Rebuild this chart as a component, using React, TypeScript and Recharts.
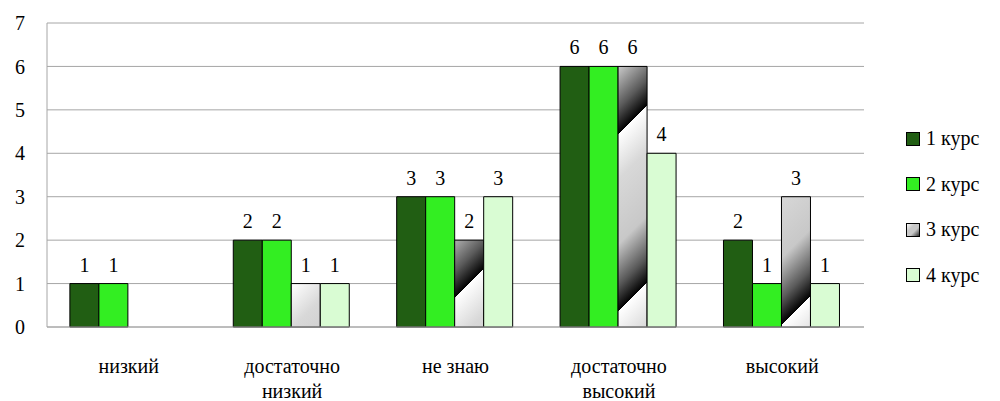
import { BarChart, Bar, XAxis, YAxis, CartesianGrid, LabelList } from "recharts"

const categories = ["низкий", "достаточно\nнизкий", "не знаю", "достаточно\nвысокий", "высокий"]
const course1 = [1, 2, 3, 6, 2]
const course2 = [1, 2, 3, 6, 1]
const course3 = [null, 1, 2, 6, 3]
const course4 = [null, 1, 3, 4, 1]
const yTicks = [0, 1, 2, 3, 4, 5, 6, 7]

const seriesNames = ["1 курс", "2 курс", "3 курс", "4 курс"]
const seriesFills = ["#215e13", "#33ee22", "url(#stripes)", "#d9fcd3"]

const data = categories.map((name, i) => ({
  name,
  c1: course1[i],
  c2: course2[i],
  c3: course3[i],
  c4: course4[i],
}))

const font = "'Liberation Serif', 'Times New Roman', 'DejaVu Serif', serif"

function CategoryTick({ x, y, payload }: any) {
  const lines = String(payload.value).split("\n")
  return (
    <text x={x} y={y} textAnchor="middle" style={{ fontFamily: font }} fontSize={20} fill="#000">
      {lines.map((l, i) => (
        <tspan key={i} x={x} dy={i === 0 ? 38 : 25}>
          {l}
        </tspan>
      ))}
    </text>
  )
}

function LegendBox() {
  return (
    <div style={{ position: "absolute", left: 906, top: 116, fontFamily: font, fontSize: 20, color: "#000" }}>
      {seriesNames.map((n, i) => (
        <div key={n} style={{ display: "flex", alignItems: "center", height: 45.5 }}>
          <svg width={14} height={14} style={{ marginRight: 6 }}>
            <defs>
              <linearGradient id={`lg${i}`} x1="0" y1="0" x2="1" y2="1">
                <stop offset="0" stopColor="#ffffff" />
                <stop offset="0.35" stopColor="#c8c8c8" />
                <stop offset="0.6" stopColor="#c8c8c8" />
                <stop offset="1" stopColor="#202020" />
              </linearGradient>
            </defs>
            <rect x={0.5} y={0.5} width={13} height={13} fill={i === 2 ? `url(#lg${i})` : seriesFills[i]} stroke="#000" />
          </svg>
          <span>{n}</span>
        </div>
      ))}
    </div>
  )
}

export default function App() {
  const keys = ["c1", "c2", "c3", "c4"]
  return (
    <div style={{ position: "absolute", left: 0, top: 0, width: 1000, height: 401, background: "#fff" }}>
      <BarChart
        width={1000}
        height={401}
        data={data}
        margin={{ top: 23, right: 136, bottom: 0, left: 0 }}
        barCategoryGap="14%"
        barGap={0}
      >
        <defs>
          <linearGradient
            id="stripes"
            gradientUnits="userSpaceOnUse"
            spreadMethod="repeat"
            x1={45}
            y1={0}
            x2={133.5}
            y2={88.5}
          >
            <stop offset="0" stopColor="#ffffff" />
            <stop offset="0.25" stopColor="#d8d8d8" />
            <stop offset="0.62" stopColor="#c8c8c8" />
            <stop offset="0.85" stopColor="#5a5a5a" />
            <stop offset="1" stopColor="#000000" />
          </linearGradient>
        </defs>
        <CartesianGrid vertical={false} stroke="#a6a6a6" />
        <XAxis
          dataKey="name"
          axisLine={{ stroke: "#a6a6a6" }}
          tickLine={false}
          height={74}
          interval={0}
          tick={<CategoryTick />}
        />
        <YAxis
          domain={[0, 7]}
          ticks={yTicks}
          interval={0}
          width={47}
          axisLine={{ stroke: "#a6a6a6" }}
          tickLine={false}
          tickSize={0}
          tickMargin={22}
          tick={{ style: { fontFamily: font }, fontSize: 20, fill: "#000" }}
        />
        {keys.map((k, i) => (
          <Bar
            key={k}
            dataKey={k}
            name={seriesNames[i]}
            fill={seriesFills[i]}
            stroke="#000"
            strokeWidth={1}
            isAnimationActive={false}
          >
            <LabelList
              dataKey={k}
              position="top"
              offset={12}
              style={{ fontFamily: font, fontSize: 20, fill: "#000" }}
            />
          </Bar>
        ))}
      </BarChart>
      <LegendBox />
    </div>
  )
}
